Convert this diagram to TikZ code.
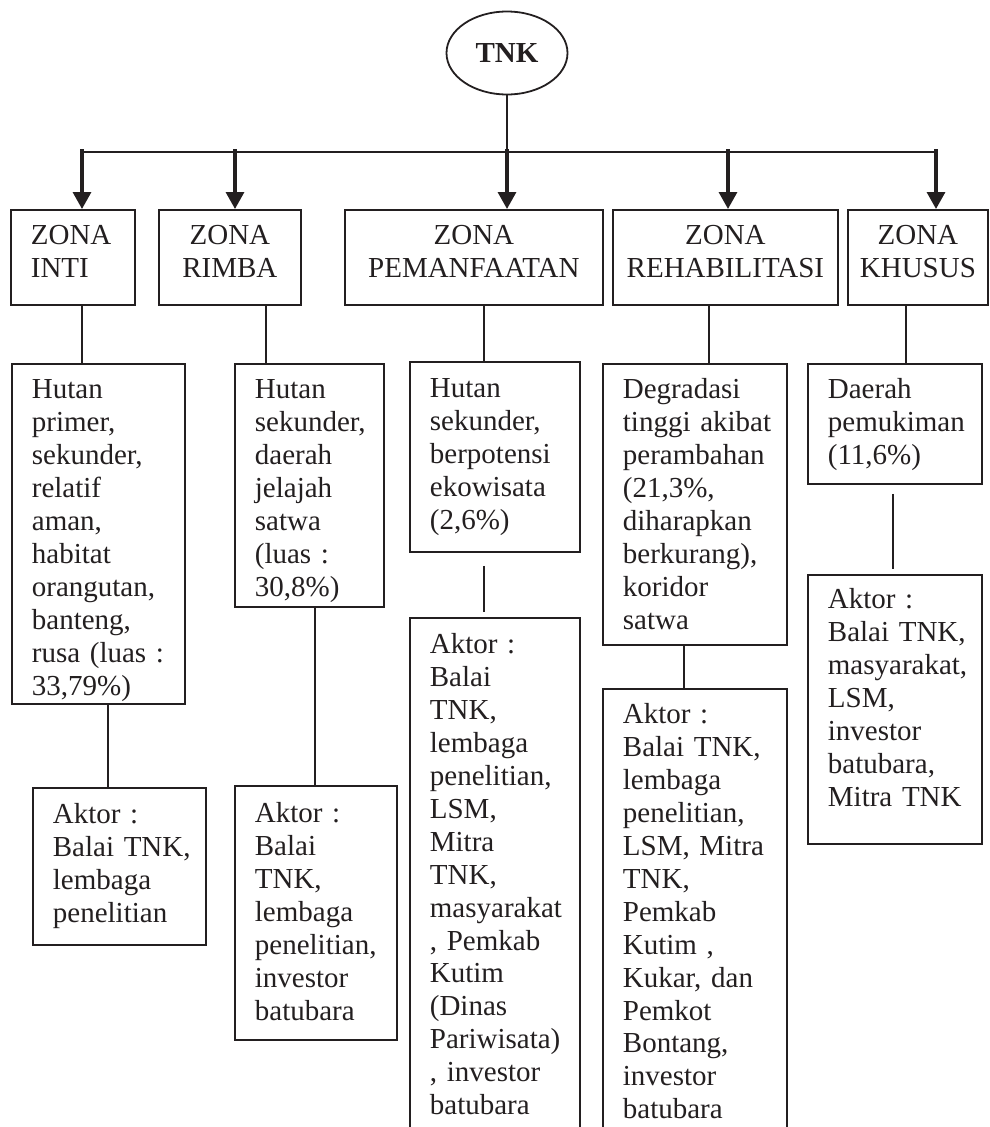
\documentclass[tikz,border=0pt]{standalone}
\usepackage{fontspec}
\setmainfont{Liberation Serif}
\usetikzlibrary{arrows.meta,shapes.geometric}

\definecolor{ink}{RGB}{35,31,32}
\DeclareRobustCommand\boxfont{\fontsize{29}{32.9}\selectfont\hyphenpenalty=10000\relax}

\tikzset{
  txt/.style={font=\boxfont, text=ink},
  box/.style={txt, draw=ink, line width=1.8pt, anchor=north west, inner ysep=0pt, text height=35pt},
  zonebox/.style={box, inner xsep=5pt, align=center, text depth=60pt},
  descbox/.style={box, inner xsep=20pt, align=left},
  link/.style={draw=ink, line width=1.8pt},
  arr/.style={draw=ink, line width=3.3pt, -{Triangle[width=18pt,length=17pt]}}
}

\begin{document}
\begin{tikzpicture}[x=1pt, y=-1pt]
    \path[use as bounding box, clip] (0,0) rectangle (990,1127);

    % root
    \node[txt, draw=ink, line width=1.8pt, ellipse, minimum width=121pt, minimum height=83pt, inner sep=0pt] (tnk) at (507,53) {\bfseries TNK};

    % zones
    \node[zonebox, inner xsep=20pt, align=left, text width=84pt] (zinti) at (10,209) {ZONA\\INTI};
    \node[zonebox, text width=132pt] (zrimba) at (158,209) {ZONA\\RIMBA};
    \node[zonebox, text width=248pt] (zpeman) at (344,209) {ZONA\\PEMANFAATAN};
    \node[zonebox, text width=215pt] (zrehab) at (612,209) {ZONA\\REHABILITASI};
    \node[zonebox, text width=130pt] (zkhusus) at (847,209) {ZONA\\KHUSUS};

    % descriptions
    \node[descbox, text width=133pt, text depth=305pt] (dinti) at (11,363) {Hutan\\primer,\\sekunder,\\relatif\\aman,\\habitat\\orangutan,\\banteng,\\rusa~(luas~:\\33,79\%)};
    \node[descbox, text width=109pt, text depth=208pt] (drimba) at (234,363) {Hutan\\sekunder,\\daerah\\jelajah\\satwa\\(luas~:\\30,8\%)};
    \node[descbox, text width=130pt, text height=36pt, text depth=154pt] (dpeman) at (409,361) {Hutan\\sekunder,\\berpotensi\\ekowisata\\(2,6\%)};
    \node[descbox, text width=144pt, text depth=246pt] (drehab) at (602,363) {Degradasi\\tinggi~akibat\\perambahan\\(21,3\%,\\diharapkan\\berkurang),\\koridor\\satwa};
    \node[descbox, text width=134pt, text depth=85pt] (dkhusus) at (807,363) {Daerah\\pemukiman\\(11,6\%)};

    % actors
    \node[descbox, text width=133pt, text height=36pt, text depth=121pt] (ainti) at (32,787) {Aktor~:\\Balai~TNK,\\lembaga\\penelitian};
    \node[descbox, text width=122pt, text height=37pt, text depth=217pt] (arimba) at (234,785) {Aktor~:\\Balai\\TNK,\\lembaga\\penelitian,\\investor\\batubara};
    \node[descbox, text width=130pt, text height=36pt, text depth=490pt] (apeman) at (409,617) {Aktor~:\\Balai\\TNK,\\lembaga\\penelitian,\\LSM,\\Mitra\\TNK,\\masyarakat\\,~Pemkab\\Kutim\\(Dinas\\Pariwisata)\\,~investor\\batubara};
    \node[descbox, text width=144pt, text depth=440pt] (arehab) at (602,688) {Aktor~:\\Balai~TNK,\\lembaga\\penelitian,\\LSM,~Mitra\\TNK,\\Pemkab\\Kutim~,\\Kukar,~dan\\Pemkot\\Bontang,\\investor\\batubara};
    \node[descbox, text width=134pt, text height=34pt, text depth=235pt] (akhusus) at (807,574) {Aktor~:\\Balai~TNK,\\masyarakat,\\LSM,\\investor\\batubara,\\Mitra~TNK};

    % branch bar
    \coordinate (b1) at (82,152);
    \coordinate (b2) at (235,152);
    \coordinate (b3) at (507,152);
    \coordinate (b4) at (728,152);
    \coordinate (b5) at (936,152);
    \draw[link] (tnk.south) -- (tnk.south |- b3);
    \draw[link] (b1) -- (b5);
    \foreach \b/\z in {b1/zinti, b2/zrimba, b3/zpeman, b4/zrehab, b5/zkhusus}
        \draw[arr] ([yshift=3pt]\b) -- (\b |- \z.north);

    % zone to description
    \draw[link] (82,0 |- zinti.south) -- (82,0 |- dinti.north);
    \draw[link] (266,0 |- zrimba.south) -- (266,0 |- drimba.north);
    \draw[link] (484,0 |- zpeman.south) -- (484,0 |- dpeman.north);
    \draw[link] (709,0 |- zrehab.south) -- (709,0 |- drehab.north);
    \draw[link] (906,0 |- zkhusus.south) -- (906,0 |- dkhusus.north);

    % description to actors
    \draw[link] (108,0 |- dinti.south) -- (108,0 |- ainti.north);
    \draw[link] (315,0 |- drimba.south) -- (315,0 |- arimba.north);
    \draw[link, shorten <=13pt, shorten >=5pt] (484,0 |- dpeman.south) -- (484,0 |- apeman.north);
    \draw[link] (684,0 |- drehab.south) -- (684,0 |- arehab.north);
    \draw[link, shorten <=9pt, shorten >=5pt] (893,0 |- dkhusus.south) -- (893,0 |- akhusus.north);
\end{tikzpicture}
\end{document}
